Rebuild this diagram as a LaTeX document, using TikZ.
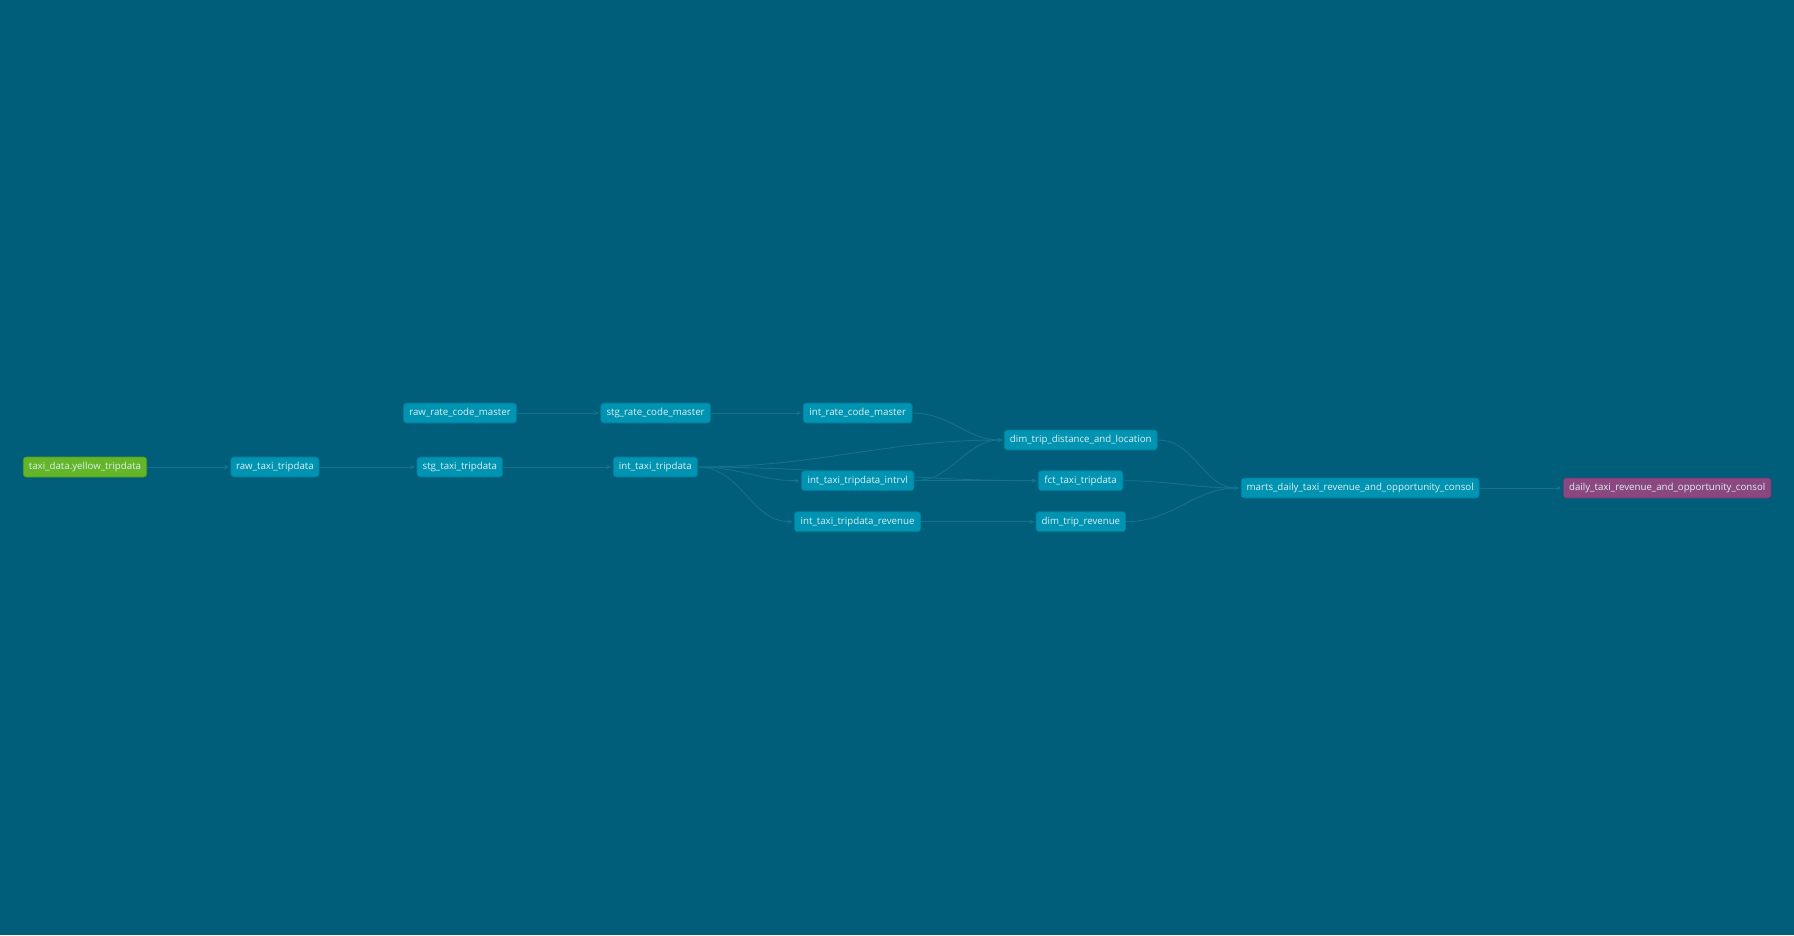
\documentclass[tikz,border=0pt]{standalone}
\usepackage{fontspec}
\setmainfont{Open Sans}
\usepackage{xcolor}
\usepackage{tikz}
\usetikzlibrary{arrows.meta, backgrounds}

\definecolor{bgteal}{RGB}{0,94,122}
\definecolor{nodeteal}{RGB}{0,148,178}
\definecolor{nodetealdark}{RGB}{0,122,152}
\definecolor{srcgreen}{RGB}{98,182,40}
\definecolor{srcgreendark}{RGB}{80,152,32}
\definecolor{expurple}{RGB}{139,71,128}
\definecolor{expurpledark}{RGB}{114,56,105}
\definecolor{edgeteal}{RGB}{16,116,143}
\definecolor{labeltext}{RGB}{222,238,242}

\begin{document}
\begin{tikzpicture}[x=1pt, y=-1pt, >={Stealth[length=5pt,width=4.5pt]},
    dbtnode/.style={rounded corners=3pt, line width=0.7pt, text=labeltext,
        font=\fontsize{9.7}{10}\selectfont, minimum height=20, inner xsep=3,
        text height=7pt, text depth=2.2pt},
    model/.style={dbtnode, fill=nodeteal, draw=nodetealdark},
    source/.style={dbtnode, fill=srcgreen, draw=srcgreendark},
    exposure/.style={dbtnode, fill=expurple, draw=expurpledark},
    edge/.style={->, draw=edgeteal, line width=0.9pt, shorten >=1.5pt}]

    % Hintergrund
    \useasboundingbox (0,0) rectangle (1794,935);

    % Quelle und Rohdaten
    \node[source, minimum width=123.4] (yellow) at (85,467) {taxi\_data.yellow\_tripdata};
    \node[model, minimum width=88.3] (rawtaxi) at (274.9,467) {raw\_taxi\_tripdata};
    \node[model, minimum width=113] (rawrate) at (460,413) {raw\_rate\_code\_master};

    % Staging
    \node[model, minimum width=85.5] (stgtaxi) at (459.8,467) {stg\_taxi\_tripdata};
    \node[model, minimum width=109.8] (stgrate) at (655.6,413) {stg\_rate\_code\_master};

    % Intermediate
    \node[model, minimum width=84.3] (inttaxi) at (655.4,467) {int\_taxi\_tripdata};
    \node[model, minimum width=109] (intrate) at (857.7,413) {int\_rate\_code\_master};
    \node[model, minimum width=112.5] (intrvl) at (857.7,480.7) {int\_taxi\_tripdata\_intrvl};
    \node[model, minimum width=126.4] (intrev) at (857.6,521.7) {int\_taxi\_tripdata\_revenue};

    % Dimensionen und Fakten
    \node[model, minimum width=153] (dimdist) at (1080.8,440) {dim\_trip\_distance\_and\_location};
    \node[model, minimum width=84.7] (fct) at (1080.6,480.7) {fct\_taxi\_tripdata};
    \node[model, minimum width=89.7] (dimrev) at (1080.9,521.7) {dim\_trip\_revenue};

    % Marts und Exposure
    \node[model, minimum width=238] (marts) at (1360.2,488) {marts\_daily\_taxi\_revenue\_and\_opportunity\_consol};
    \node[exposure, minimum width=207.7] (daily) at (1667.2,488) {daily\_taxi\_revenue\_and\_opportunity\_consol};

    % Kanten hinter den Knoten
    \begin{pgfonlayer}{background}
        \fill[bgteal] (0,0) rectangle (1794,935);
        \draw[edge] (yellow.east) -- (rawtaxi.west);
        \draw[edge] (rawtaxi.east) -- (stgtaxi.west);
        \draw[edge] (stgtaxi.east) -- (inttaxi.west);
        \draw[edge] (rawrate.east) -- (stgrate.west);
        \draw[edge] (stgrate.east) -- (intrate.west);
        \draw[edge] (inttaxi.east) to[out=0, in=180] (intrvl.west);
        \draw[edge] (inttaxi.east) to[out=0, in=180] (intrev.west);
        \draw[edge] (inttaxi.east) to[out=0, in=180] (dimdist.west);
        \draw[edge] (inttaxi.east) to[out=0, in=180] (fct.west);
        \draw[edge] (intrate.east) to[out=0, in=180] (dimdist.west);
        \draw[edge] (intrvl.east) to[out=0, in=180] (dimdist.west);
        \draw[edge] (intrvl.east) to[out=0, in=180] (fct.west);
        \draw[edge] (intrev.east) -- (dimrev.west);
        \draw[edge] (dimdist.east) to[out=0, in=180] (marts.west);
        \draw[edge] (fct.east) to[out=0, in=180] (marts.west);
        \draw[edge] (dimrev.east) to[out=0, in=180] (marts.west);
        \draw[edge] (marts.east) -- (daily.west);
    \end{pgfonlayer}
\end{tikzpicture}
\end{document}
